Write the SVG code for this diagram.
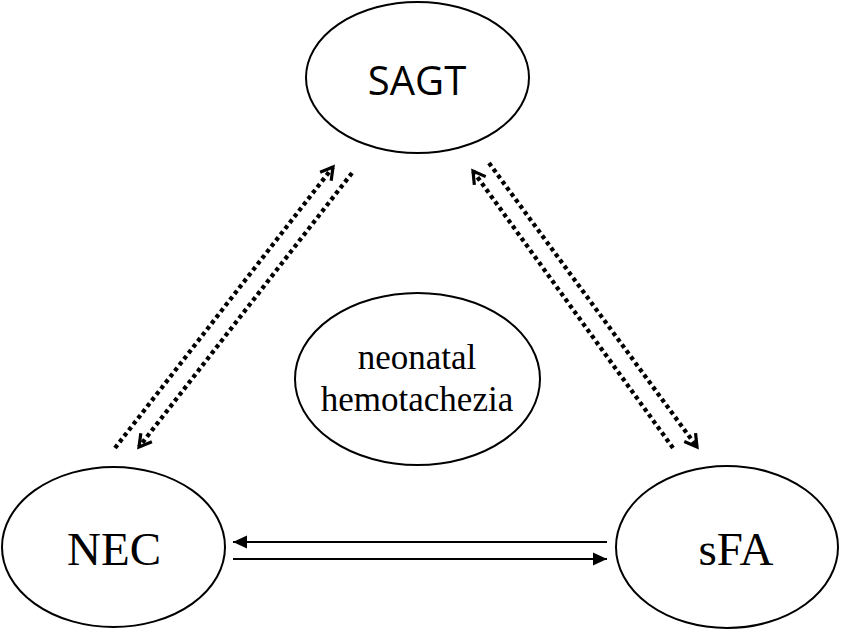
<svg xmlns="http://www.w3.org/2000/svg" width="841" height="630" viewBox="0 0 841 630">
<style>
.node{fill:#fff;stroke:#000;stroke-width:2}
.serif{font-family:"Liberation Serif","Times New Roman",serif;fill:#000}
.sans{font-family:"Open Sans","Liberation Sans",sans-serif;fill:#000}
.dot{stroke:#000;stroke-width:4.3;stroke-dasharray:4 3.5;fill:none}
.solid{stroke:#000;stroke-width:2;fill:none}
</style>
<defs>
<marker id="chev" markerUnits="userSpaceOnUse" markerWidth="20" markerHeight="20" refX="14" refY="10" orient="auto" viewBox="0 0 20 20">
<path d="M2,3 L14,10 L2,17" fill="none" stroke="#000" stroke-width="3.2"/>
</marker>
<marker id="tri" markerUnits="userSpaceOnUse" markerWidth="16" markerHeight="14" refX="14" refY="7" orient="auto" viewBox="0 0 16 14">
<path d="M0,0.5 L14,7 L0,13.5 Z" fill="#000"/>
</marker>
</defs>
<rect width="841" height="630" fill="#fff"/>
<g id="connectors">
<line class="dot" x1="115" y1="448" x2="333" y2="167" marker-end="url(#chev)"/>
<line class="dot" x1="352" y1="173" x2="139" y2="447" marker-end="url(#chev)"/>
<line class="dot" x1="673" y1="448" x2="473" y2="171" marker-end="url(#chev)"/>
<line class="dot" x1="489" y1="163" x2="697" y2="447" marker-end="url(#chev)"/>
<line class="solid" x1="607" y1="542" x2="233" y2="542" marker-end="url(#tri)"/>
<line class="solid" x1="233" y1="559" x2="607" y2="559" marker-end="url(#tri)"/>
</g>
<g id="SAGT">
<ellipse class="node" cx="417.5" cy="77.5" rx="111.5" ry="75.5"/>
<text class="sans" x="417" y="95" font-size="40" text-anchor="middle">SAGT</text>
</g>
<g id="center">
<ellipse class="node" cx="417.5" cy="379" rx="122.5" ry="86"/>
<text class="serif" x="417" y="369" font-size="35" text-anchor="middle">neonatal</text>
<text class="serif" x="417" y="411" font-size="35" text-anchor="middle">hemotachezia</text>
</g>
<g id="NEC">
<ellipse class="node" cx="113.5" cy="547" rx="111.5" ry="80"/>
<text class="serif" x="114" y="565" font-size="47" text-anchor="middle">NEC</text>
</g>
<g id="sFA">
<ellipse class="node" cx="727" cy="547" rx="111" ry="81"/>
<text class="serif" x="736" y="565" font-size="47" text-anchor="middle">sFA</text>
</g>
</svg>
